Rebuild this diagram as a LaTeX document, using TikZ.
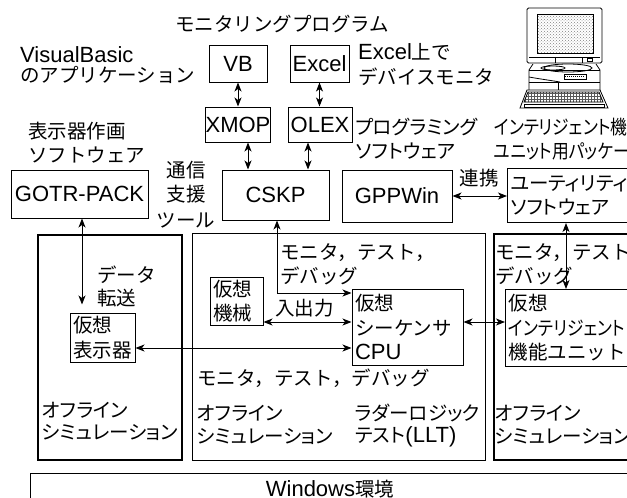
\documentclass[tikz,border=0pt]{standalone}
\usepackage{fontspec}
\setmainfont{Liberation Sans}
\newfontfamily\jpfont{Noto Sans CJK JP}
\newfontfamily\jppfont[RawFeature=+palt]{Noto Sans CJK JP}
\usetikzlibrary{arrows.meta,patterns}
% Japanese text: full-width and proportional kana
\newcommand\jpn[1]{{\jpfont\fontsize{19.5}{24.5}\selectfont#1}}
\newcommand\jpp[1]{{\jppfont\fontsize{19.5}{24.5}\selectfont#1}}
% proportional kana, set a little narrower
\newcommand\jpq[1]{\scalebox{0.86}[1]{\jpp{#1}}}
\begin{document}
\begin{tikzpicture}[x=1pt,y=-1pt,
  every node/.style={font=\fontsize{22}{24.5}\selectfont, inner sep=0pt},
  box/.style={draw, line width=1pt},
  simbox/.style={draw, line width=2pt, anchor=north west},
  thinsim/.style={draw, line width=1pt, anchor=north west},
  lbl/.style={anchor=west},
  dbl/.style={line width=0.9pt, {Stealth[length=9pt,width=7pt,inset=2.5pt]}-{Stealth[length=9pt,width=7pt,inset=2.5pt]}},
]
\useasboundingbox (0,0) rectangle (627,498);
\clip (0,0) rectangle (627,498);

% ---- software boxes ----
\node[box, minimum width=58, minimum height=37] (vb) at (238,63.5) {VB};
\node[box, minimum width=59, minimum height=37] (excel) at (319.5,63.5) {Excel};
\node[box, minimum width=60, minimum height=35] (xmop) at (238,124.5) {XMOP};
\node[box, minimum width=64, minimum height=35] (olex) at (320,124.5) {OLEX};
\node[box, minimum width=137, minimum height=48] (gotr) at (79.5,194) {GOTR-PACK};
\node[box, minimum width=107, minimum height=50] (cskp) at (275.5,195) {CSKP};
\node[box, minimum width=110, minimum height=52] (gpp) at (397,196) {GPPWin};
\node[box, anchor=north west, minimum width=150, minimum height=54, text width=144, align=left]
  (util) at (507,168) {\jpp{ユーティリティ}\\\jpp{ソフトウェア}};

% ---- simulation areas ----
\node[simbox, minimum width=144, minimum height=225] (leftsim) at (37,234) {};
\node[thinsim, minimum width=293, minimum height=227] (midsim) at (192,233) {};
\node[simbox, minimum width=170, minimum height=226] (rightsim) at (493,233) {};
\node[draw, line width=1.2pt, anchor=north west, minimum width=640, minimum height=60] (winbox) at (30,473) {};
\node (winlbl) at (330,489) {Windows\jpn{環境}};

% ---- virtual devices ----
\node[box, minimum width=65, minimum height=49, text width=59, align=left]
  (vdisp) at (102.5,337.5) {\jpn{仮想}\\\jpn{表示器}};
\node[box, minimum width=53, minimum height=48, text width=47, align=left]
  (vmach) at (236.5,301) {\jpn{仮想}\\\jpn{機械}};
\node[box, minimum width=111, minimum height=76, text width=105, align=left]
  (cpu) at (407.5,327) {\jpn{仮想}\\\jpn{シーケンサ}\\CPU};
\node[box, anchor=north west, minimum width=166, minimum height=77, text width=160, align=left]
  (vint) at (505,289) {\jpn{仮想}\\\jpq{インテリジェント}\\\jpn{機能ユニット}};

% ---- labels ----
\node[lbl] (tmon) at (175,24) {\jpn{モニタリングプログラム}};
\node[lbl] (tvb1) at (20,55) {VisualBasic};
\node[lbl] (tvb2) at (20,75) {\jpn{のアプリケーション}};
\node[lbl] (tex1) at (358,52) {Excel\jpn{上で}};
\node[lbl] (tex2) at (358,77) {\jpn{デバイスモニタ}};
\node[lbl] (tprg1) at (355,127) {\jpp{プログラミング}};
\node[lbl] (tprg2) at (356,151) {\jpp{ソフトウェア}};
\node[lbl] (tint1) at (494,127) {\jpq{インテリジェント機能}};
\node[lbl] (tint2) at (494,151) {\jpq{ユニット用パッケージ}};
\node[lbl] (tdsp1) at (28,131) {\jpn{表示器作画}};
\node[lbl] (tdsp2) at (28,155) {\jpn{ソフトウェア}};
\node (tcom1) at (186,170) {\jpn{通信}};
\node (tcom2) at (186,194) {\jpn{支援}};
\node (tcom3) at (186,220) {\jpn{ツール}};
\node (tlink) at (479,178) {\jpn{連携}};
\node[lbl] (tdat1) at (97,275) {\jpn{データ}};
\node[lbl] (tdat2) at (97,298) {\jpn{転送}};
\node[lbl] (tmtd1) at (280,253) {\jpn{モニタ，テスト，}};
\node[lbl] (tmtd2) at (280,276) {\jpn{デバッグ}};
\node[lbl] (tio) at (275,308) {\jpn{入出力}};
\node[lbl] (trmt1) at (495,253) {\jpn{モニタ，テスト，}};
\node[lbl] (trmt2) at (495,276) {\jpn{デバッグ}};
\node[lbl] (tmtd3) at (197,378) {\jpn{モニタ，テスト，デバッグ}};
\node[lbl] (tmof1) at (197,413) {\jpp{オフライン}};
\node[lbl] (tmof2) at (197,437) {\jpp{シミュレーション}};
\node[lbl] (tllt1) at (355,413) {\jpp{ラダーロジック}};
\node[lbl] (tllt2) at (355,437) {\jpp{テスト}(LLT)};
\node[lbl] (trof1) at (495,413) {\jpp{オフライン}};
\node[lbl] (trof2) at (495,437) {\jpp{シミュレーション}};
\node[lbl] (tlof1) at (42,410) {\jpp{オフライン}};
\node[lbl] (tlof2) at (42,433) {\jpp{シミュレーション}};

% ---- connectors ----
\draw[dbl] (vb) -- (xmop);
\draw[dbl] (excel.south) -- (excel.south |- olex.north);
\draw[dbl] ([xshift=10pt]xmop.south) -- ([xshift=10pt]xmop.south |- cskp.north);
\draw[dbl] ([xshift=-12pt]olex.south) -- ([xshift=-12pt]olex.south |- cskp.north);
\draw[dbl] (gpp.east) -- (gpp.east -| util.west);
\draw[dbl, shorten >=8pt] ([xshift=2.5pt]gotr.south) -- ([xshift=2.5pt]gotr.south |- vdisp.north);
\draw[dbl] ([xshift=1.5pt]cskp.south) |- ([yshift=34pt]cpu.west);
\draw[dbl] ([yshift=5pt]cpu.west) -- ([yshift=5pt]cpu.west -| vmach.east);
\draw[dbl] ([yshift=-21pt]cpu.west) -- ([yshift=-21pt]cpu.west -| vdisp.east);
\draw[dbl] ([yshift=5pt]cpu.east) -- ([yshift=5pt]cpu.east -| vint.west);
\draw[dbl] ([xshift=59pt]util.south west) -- ([xshift=59pt]util.south west |- vint.north);

% ---- personal computer ----
\begin{scope}[line width=0.8pt]
  % monitor
  \draw[rounded corners=1.5pt] (527,8) rectangle (602,63);
  \draw[pattern=crosshatch dots, pattern color=gray] (537,14) rectangle (593,53);
  \draw (529,57) -- (600,57);
  \draw (555,57) -- (555,63) (582,57) -- (582,63);
  \draw (587,58.5) rectangle (592,61.5);
  % stand
  \draw (568,68) ellipse (24 and 4);
  \draw (553,68) ellipse (12 and 2);
  % system unit
  \draw (533,64) -- (529,70) -- (529,92) -- (600,92) -- (600,70) -- (596,64);
  \draw (529,70) -- (600,70);
  \draw (529,82) -- (600,82);
  \draw (529,77) .. controls (540,79) and (548,80) .. (560,82);
  \draw (564,74) rectangle (586,79);
  \draw[line width=1.4pt, dash pattern=on 1pt off 1pt] (565,76.5) -- (585,76.5);
  \draw (558,82) -- (558,92);
  % keyboard
  \draw[fill=white] (527,90) -- (600,90) -- (608,108) -- (520,108) -- cycle;
  \draw[pattern=grid, pattern color=gray!70!black] (528,92) -- (599,92) -- (603,102) -- (524,102) -- cycle;
  \draw (524,104) rectangle (604,107);
\end{scope}
\end{tikzpicture}
\end{document}
